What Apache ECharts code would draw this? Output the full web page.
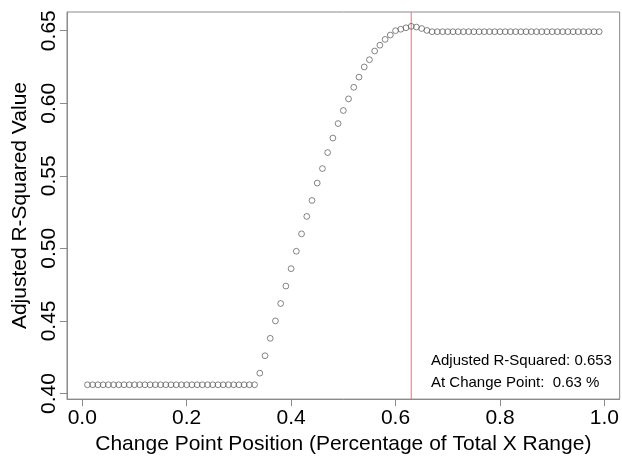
<!DOCTYPE html>
<html>
<head>
<meta charset="utf-8">
<script src="https://cdn.jsdelivr.net/npm/echarts@6/dist/echarts.min.js"></script>
<style>
html,body{margin:0;padding:0;background:#fff;}
#chart{width:622px;height:460px;}
</style>
</head>
<body>
<div id="chart"></div>
<script>
// Change point positions (fraction of total X range)
const positions = [
  0.01,0.02,0.03,0.04,0.05,0.06,0.07,0.08,0.09,0.10,
  0.11,0.12,0.13,0.14,0.15,0.16,0.17,0.18,0.19,0.20,
  0.21,0.22,0.23,0.24,0.25,0.26,0.27,0.28,0.29,0.30,
  0.31,0.32,0.33,0.34,0.35,0.36,0.37,0.38,0.39,0.40,
  0.41,0.42,0.43,0.44,0.45,0.46,0.47,0.48,0.49,0.50,
  0.51,0.52,0.53,0.54,0.55,0.56,0.57,0.58,0.59,0.60,
  0.61,0.62,0.63,0.64,0.65,0.66,0.67,0.68,0.69,0.70,
  0.71,0.72,0.73,0.74,0.75,0.76,0.77,0.78,0.79,0.80,
  0.81,0.82,0.83,0.84,0.85,0.86,0.87,0.88,0.89,0.90,
  0.91,0.92,0.93,0.94,0.95,0.96,0.97,0.98,0.99
];
// Adjusted R-squared at each change point
const adjR2 = [
  0.406,0.406,0.406,0.406,0.406,0.406,0.406,0.406,0.406,0.406,
  0.406,0.406,0.406,0.406,0.406,0.406,0.406,0.406,0.406,0.406,
  0.406,0.406,0.406,0.406,0.406,0.406,0.406,0.406,0.406,0.406,
  0.406,0.406,0.406,0.414,0.426,0.438,0.450,0.462,0.474,0.486,
  0.498,0.510,0.522,0.533,0.545,0.555,0.566,0.576,0.586,0.595,
  0.603,0.611,0.618,0.625,0.630,0.636,0.640,0.644,0.647,0.650,
  0.651,0.652,0.653,0.6525,0.6515,0.6502,0.6493,0.6493,0.6493,0.6493,
  0.6493,0.6493,0.6493,0.6493,0.6493,0.6493,0.6493,0.6493,0.6493,0.6493,
  0.6493,0.6493,0.6493,0.6493,0.6493,0.6493,0.6493,0.6493,0.6493,0.6493,
  0.6493,0.6493,0.6493,0.6493,0.6493,0.6493,0.6493,0.6493,0.6493
];
const xTicks = [0.0, 0.2, 0.4, 0.6, 0.8, 1.0];
const yTicks = [0.40, 0.45, 0.50, 0.55, 0.60, 0.65];
const bestPosition = 0.63;
const bestAdjR2 = 0.653;
const xTitle = 'Change Point Position (Percentage of Total X Range)';
const yTitle = 'Adjusted R-Squared Value';
const noteLines = ['Adjusted R-Squared: 0.653', 'At Change Point:  0.63 %'];

const FONT = '"Liberation Sans", Arial, Helvetica, sans-serif';
const AXIS_COLOR = '#8a8a8a';
const MARK_COLOR = '#ee6e7a';

// R-style 4% axis expansion of the data range
const xr = [Math.min(...positions), Math.max(...positions)];
const yr = [Math.min(...adjR2), Math.max(...adjR2)];
const xPad = (xr[1] - xr[0]) * 0.04;
const yPad = (yr[1] - yr[0]) * 0.04;
const yMin = yr[0] - yPad, yMax = yr[1] + yPad;

const chart = echarts.init(document.getElementById('chart'), null, {renderer: 'canvas'});
chart.setOption({
  animation: false,
  backgroundColor: '#fff',
  textStyle: {fontFamily: FONT},
  grid: {
    left: 67, top: 12, right: -1, bottom: 51.5,
    show: true, borderColor: AXIS_COLOR, borderWidth: 1, backgroundColor: 'transparent'
  },
  xAxis: {
    type: 'value',
    min: xr[0] - xPad,
    max: xr[1] + xPad,
    splitLine: {show: false},
    axisLine: {show: true, onZero: false, lineStyle: {color: AXIS_COLOR, width: 1}},
    axisTick: {show: true, inside: false, length: 7, customValues: xTicks, lineStyle: {color: AXIS_COLOR}},
    axisLabel: {
      customValues: xTicks, color: '#000', fontSize: 21, fontFamily: FONT, margin: 9,
      formatter: v => v.toFixed(1)
    },
    name: xTitle,
    nameLocation: 'middle',
    nameGap: 31,
    nameTextStyle: {color: '#000', fontSize: 21, fontFamily: FONT}
  },
  yAxis: {
    type: 'value',
    min: yMin,
    max: yMax,
    splitLine: {show: false},
    axisLine: {show: true, onZero: false, lineStyle: {color: AXIS_COLOR, width: 1}},
    axisTick: {show: true, inside: false, length: 7, customValues: yTicks, lineStyle: {color: AXIS_COLOR}},
    axisLabel: {
      customValues: yTicks, color: '#000', fontSize: 21, fontFamily: FONT, margin: 7, rotate: 90,
      formatter: v => v.toFixed(2)
    },
    name: yTitle,
    nameLocation: 'middle',
    nameRotate: 90,
    nameGap: 35,
    nameTextStyle: {color: '#000', fontSize: 21, fontFamily: FONT}
  },
  series: [
    {
      type: 'line',
      data: [[bestPosition, yMin], [bestPosition, yMax]],
      symbol: 'none',
      silent: true,
      lineStyle: {color: MARK_COLOR, width: 1, type: 'solid'},
      itemStyle: {color: MARK_COLOR},
      emphasis: {disabled: true},
      z: 1
    },
    {
      type: 'scatter',
      data: positions.map((p, i) => [p, adjR2[i]]),
      symbol: 'circle',
      symbolSize: 5.8,
      itemStyle: {color: 'rgba(0,0,0,0)', borderColor: '#555', borderWidth: 0.9},
      emphasis: {disabled: true},
      z: 2
    }
  ],
  graphic: [
    {type: 'text', left: 431, top: 353, style: {text: noteLines[0], font: '15px ' + FONT, fill: '#000'}},
    {type: 'text', left: 431, top: 375.5, style: {text: noteLines[1], font: '15px ' + FONT, fill: '#000'}}
  ]
});
</script>
</body>
</html>
